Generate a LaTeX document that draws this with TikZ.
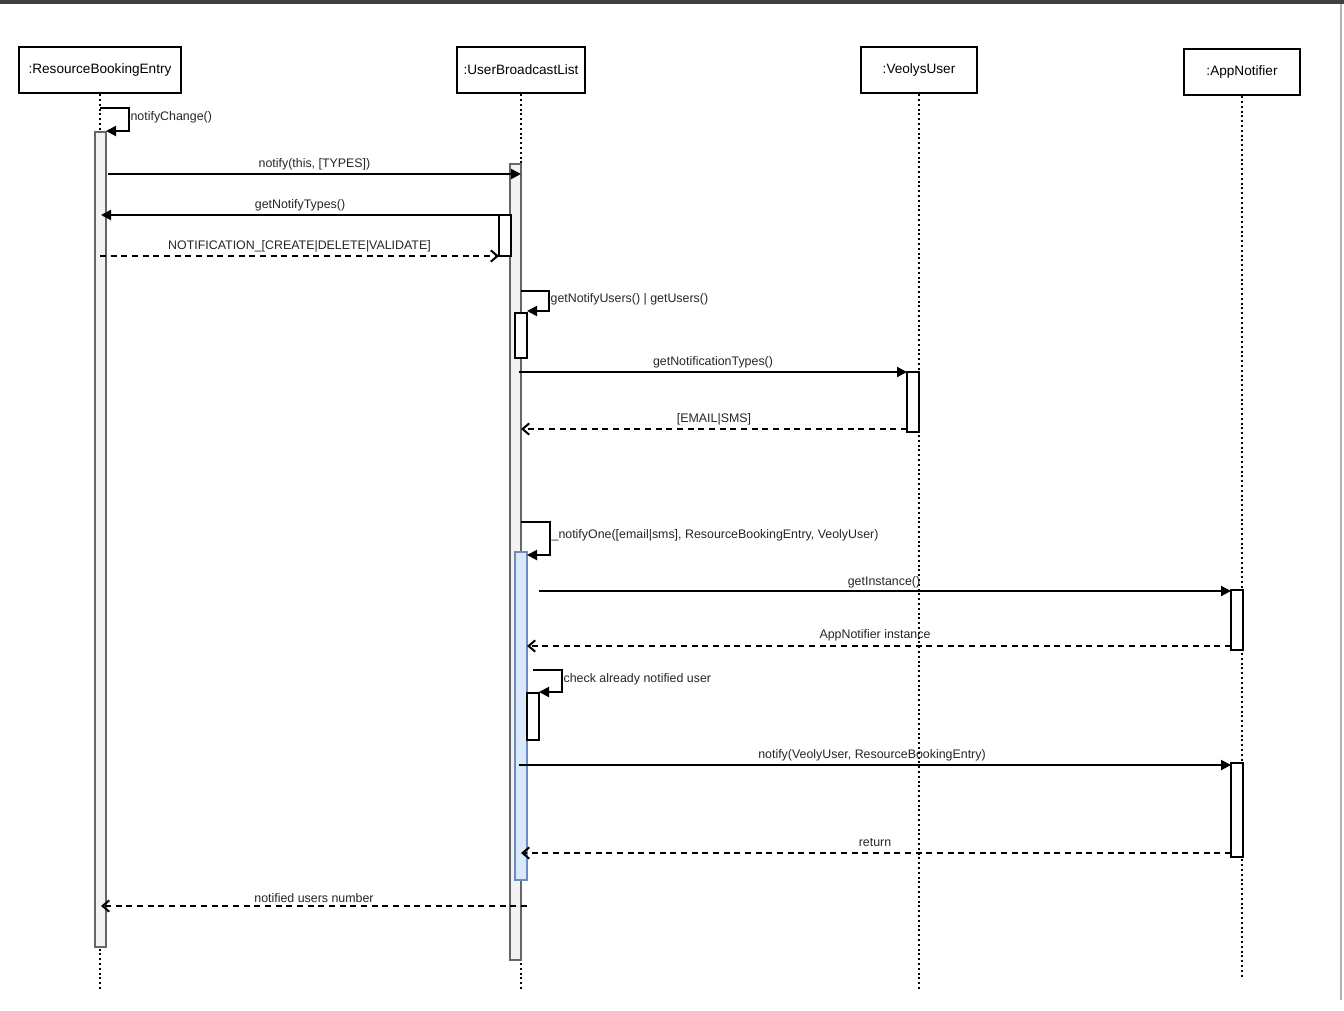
\documentclass[tikz,border=0pt]{standalone}
\usepackage{fontspec}
\setmainfont{Liberation Sans}
\usetikzlibrary{arrows.meta,fit}
\definecolor{bluefill}{HTML}{DAE8FC}
\definecolor{blueline}{HTML}{6C8EBF}
\begin{document}
\begin{tikzpicture}[x=0.75pt,y=-0.75pt,
  obj/.style={draw=black,line width=1.7pt,fill=white,inner sep=0pt,font=\fontsize{10.2}{11}\selectfont},
  life/.style={line width=1.7pt,dash pattern=on 1.5pt off 2.1pt,black},
  act/.style={draw=gray!80!black,line width=1.3pt,fill=gray!10,inner sep=0pt},
  actb/.style={draw=black,line width=1.5pt,fill=white,inner sep=0pt},
  actblue/.style={draw=blueline,line width=1.3pt,fill=bluefill,inner sep=0pt},
  msg/.style={line width=1.5pt,-{Triangle[length=7.5pt,width=7.5pt]}},
  ret/.style={line width=1.5pt,dash pattern=on 4.5pt off 3.5pt,-{Straight Barb[length=5pt,width=8.5pt]}},
  lbl/.style={font=\fontsize{9.3}{10}\selectfont,inner sep=1pt,text=black!85},
]
\useasboundingbox (0,0) rectangle (1344,1010);
\fill[white] (0,0) rectangle (1344,1010);
\fill[black!75] (0,0) rectangle (1344,4);
\draw[gray!60,line width=1.2pt] (1341,4) -- (1341,1000);

% objects
\node[obj,minimum width=162*0.75pt,minimum height=46*0.75pt] (rbe) at (100,70) {:ResourceBookingEntry};
\node[obj,minimum width=128*0.75pt,minimum height=46*0.75pt] (ubl) at (521,70) {:UserBroadcastList};
\node[obj,minimum width=116*0.75pt,minimum height=46*0.75pt] (vu) at (919,70) {:VeolysUser};
\node[obj,minimum width=116*0.75pt,minimum height=46*0.75pt] (an) at (1242,72) {:AppNotifier};

% lifelines
\coordinate (rbeE) at (100,990);
\coordinate (ublE) at (521,990);
\coordinate (vuE) at (919,990);
\coordinate (anE) at (1242,978);
\draw[life] (rbe.south) -- (rbeE);
\draw[life] (ubl.south) -- (ublE);
\draw[life] (vu.south) -- (vuE);
\draw[life] (an.south) -- (anE);

% activation bars
\node[act,fit={(95,132)(106,947)}] (a1) {};
\node[act,fit={(510,164)(521,960)}] (a2) {};
\node[actb,fit={(499,215)(511,256)}] (a3) {};
\node[actb,fit={(515,313)(527,358)}] (a4) {};
\node[actb,fit={(907,372)(919,432)}] (a5) {};
\node[actblue,fit={(515,552)(527,880)}] (a6) {};
\node[actb,fit={(527,693)(539,740)}] (a7) {};
\node[actb,fit={(1231,590)(1243,650)}] (a8) {};
\node[actb,fit={(1231,763)(1243,857)}] (a9) {};

% self message notifyChange()
\coordinate (s1a) at (100,108);
\coordinate (s1b) at (129,108);
\coordinate (s1c) at (129,131);
\coordinate (s1d) at (106,131);
\draw[msg] (s1a) -- (s1b) -- (s1c) -- (s1d);
\node[lbl,anchor=west] (l1) at (129,117) {notifyChange()};

% notify(this,[TYPES])
\coordinate (m2a) at (108,174);
\coordinate (m2b) at (521,174);
\draw[msg] (m2a) -- node[lbl,above=1pt] (l2) {notify(this, [TYPES])} (m2b);

% getNotifyTypes()
\coordinate (m3a) at (499,215);
\coordinate (m3b) at (101,215);
\draw[msg] (m3a) -- node[lbl,above=1pt] (l3) {getNotifyTypes()} (m3b);

% NOTIFICATION_
\coordinate (m4a) at (100,256);
\coordinate (m4b) at (499,256);
\draw[ret] (m4a) -- node[lbl,above=1pt] (l4) {NOTIFICATION\_[CREATE|DELETE|VALIDATE]} (m4b);

% self getNotifyUsers
\coordinate (s5a) at (521,291);
\coordinate (s5b) at (549,291);
\coordinate (s5c) at (549,311);
\coordinate (s5d) at (527,311);
\draw[msg] (s5a) -- (s5b) -- (s5c) -- (s5d);
\node[lbl,anchor=west] (l5) at (549,299) {getNotifyUsers() | getUsers()};

% getNotificationTypes()
\coordinate (m6a) at (519,372);
\coordinate (m6b) at (907,372);
\draw[msg] (m6a) -- node[lbl,above=1pt] (l6) {getNotificationTypes()} (m6b);

% [EMAIL|SMS]
\coordinate (m7a) at (907,429);
\coordinate (m7b) at (521,429);
\draw[ret] (m7a) -- node[lbl,above=1pt] (l7) {[EMAIL|SMS]} (m7b);

% self _notifyOne
\coordinate (s8a) at (521,522);
\coordinate (s8b) at (550,522);
\coordinate (s8c) at (550,555);
\coordinate (s8d) at (527,555);
\draw[msg] (s8a) -- (s8b) -- (s8c) -- (s8d);
\node[lbl,anchor=west] (l8) at (550,535) {\_notifyOne([email|sms], ResourceBookingEntry, VeolyUser)};

% getInstance()
\coordinate (m9a) at (539,591);
\coordinate (m9b) at (1231,591);
\draw[msg] (m9a) -- (m9b);
\node[lbl] (l9) at (884,582) {getInstance()};

% AppNotifier instance
\coordinate (m10a) at (1231,646);
\coordinate (m10b) at (527,646);
\draw[ret] (m10a) -- (m10b);
\node[lbl] (l10) at (875,635) {AppNotifier instance};

% self check already notified user
\coordinate (s11a) at (533,670);
\coordinate (s11b) at (562,670);
\coordinate (s11c) at (562,692);
\coordinate (s11d) at (539,692);
\draw[msg] (s11a) -- (s11b) -- (s11c) -- (s11d);
\node[lbl,anchor=west] (l11) at (562,679) {check already notified user};

% notify(VeolyUser, ResourceBookingEntry)
\coordinate (m12a) at (519,765);
\coordinate (m12b) at (1231,765);
\draw[msg] (m12a) -- (m12b);
\node[lbl] (l12) at (872,755) {notify(VeolyUser, ResourceBookingEntry)};

% return
\coordinate (m13a) at (1231,853);
\coordinate (m13b) at (521,853);
\draw[ret] (m13a) -- (m13b);
\node[lbl] (l13) at (875,843) {return};

% notified users number
\coordinate (m14a) at (527,906);
\coordinate (m14b) at (101,906);
\draw[ret] (m14a) -- node[lbl,above=1pt] (l14) {notified users number} (m14b);
\end{tikzpicture}
\end{document}
